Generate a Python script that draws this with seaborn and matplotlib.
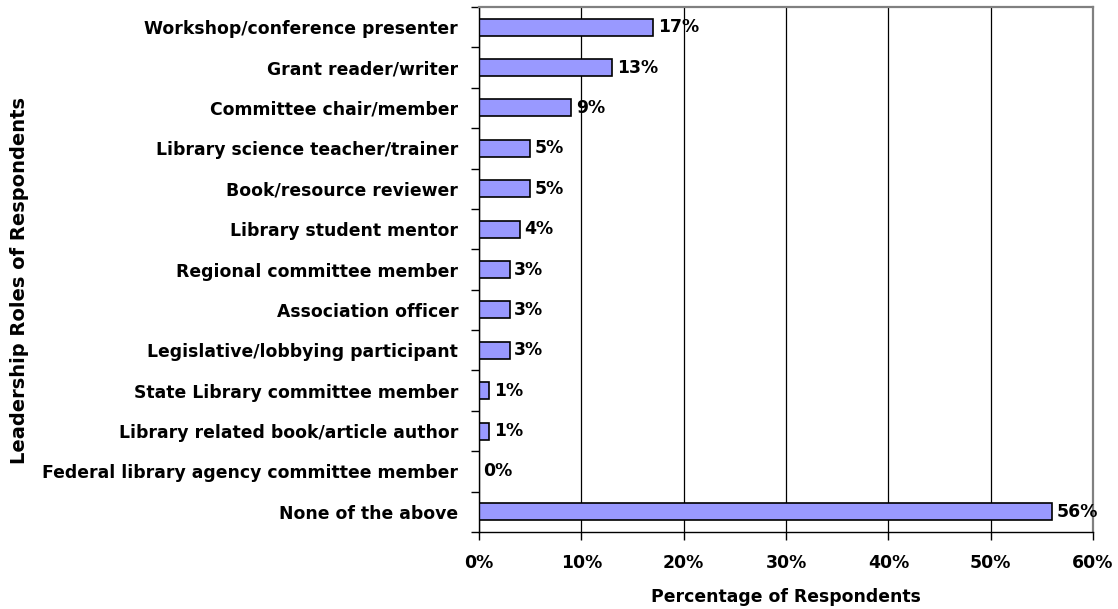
import matplotlib
matplotlib.use("Agg")
import matplotlib.pyplot as plt
import seaborn as sns
import pandas as pd
from matplotlib.ticker import PercentFormatter

categories = [
    "Workshop/conference presenter",
    "Grant reader/writer",
    "Committee chair/member",
    "Library science teacher/trainer",
    "Book/resource reviewer",
    "Library student mentor",
    "Regional committee member",
    "Association officer",
    "Legislative/lobbying participant",
    "State Library committee member",
    "Library related book/article author",
    "Federal library agency committee member",
    "None of the above",
]
values = [17, 13, 9, 5, 5, 4, 3, 3, 3, 1, 1, 0, 56]
x_ticks = [0, 10, 20, 30, 40, 50, 60]

df = pd.DataFrame({"role": categories, "pct": values})

sns.set_theme(style="white")
plt.rcParams["font.family"] = ["DejaVu Sans"]
plt.rcParams["font.weight"] = "bold"
plt.rcParams["text.color"] = "black"
plt.rcParams["axes.labelcolor"] = "black"
plt.rcParams["xtick.color"] = "black"
plt.rcParams["ytick.color"] = "black"

FS = 12.4

fig = plt.figure(figsize=(11.18, 6.09), dpi=100)
ax = fig.add_axes([479 / 1118, 1 - 532 / 609, (1093 - 479) / 1118, (532 - 7) / 609])

sns.barplot(data=df, y="role", x="pct", orient="h", color="#9999FF",
            edgecolor="black", linewidth=1.2, width=0.42, saturation=1, ax=ax)

ax.set_xlim(0, 60)
ax.set_ylim(len(categories) - 0.5, -0.5)
ax.set_xticks(x_ticks)
ax.xaxis.set_major_formatter(PercentFormatter(decimals=0))
ax.set_axisbelow(True)
ax.grid(axis="x", color="black", linewidth=0.9)
ax.grid(axis="y", visible=False)

for i, v in enumerate(values):
    ax.text(v + 0.45, i, f"{v}%", va="center", ha="left", fontsize=FS, fontweight="bold",
            color="black")

for side in ["top", "right"]:
    ax.spines[side].set_color("#808080")
    ax.spines[side].set_linewidth(1.6)
for side in ["left", "bottom"]:
    ax.spines[side].set_color("black")
    ax.spines[side].set_linewidth(1.0)

ax.set_yticks(range(len(categories)))
ax.set_yticklabels(categories)
ax.set_yticks([i + 0.5 for i in range(-1, len(categories))], minor=True)
ax.tick_params(axis="y", which="major", length=0, pad=15, labelsize=FS)
ax.tick_params(axis="y", which="minor", length=6, width=1, color="black", direction="out", left=True)
ax.tick_params(axis="x", which="major", length=6, width=1, color="black", direction="out",
               bottom=True, pad=10, labelsize=FS)

ax.set_xlabel("Percentage of Respondents", fontsize=FS, fontweight="bold", labelpad=11)
ax.set_ylabel("")
fig.text(20 / 1118, 1 - 280 / 609, "Leadership Roles of Respondents", rotation=90,
         ha="center", va="center", fontsize=14, fontweight="bold", color="black")

fig.savefig("out.png", dpi=100)
